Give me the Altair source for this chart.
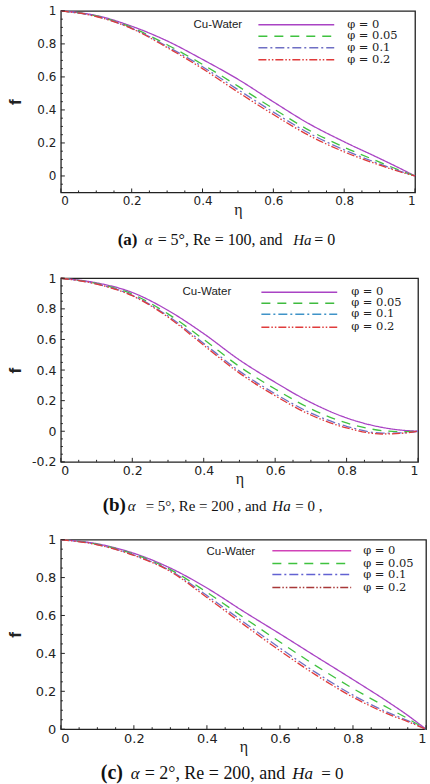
import altair as alt
import pandas as pd

# Similarity coordinate and the four nanofluid volume fractions
eta = [0.0, 0.1, 0.2, 0.3, 0.4, 0.5, 0.6, 0.7, 0.8, 0.9, 0.95, 1.0]
series = ["φ = 0", "φ = 0.05", "φ = 0.1", "φ = 0.2"]

# (a) alpha = 5 deg, Re = 100, Ha = 0
fa_0 = [1, 0.972, 0.907, 0.818, 0.706, 0.586, 0.449, 0.317, 0.207, 0.106, 0.054, 0]
fa_05 = [1, 0.969, 0.899, 0.795, 0.676, 0.544, 0.408, 0.278, 0.174, 0.084, 0.040, 0]
fa_10 = [1, 0.967, 0.895, 0.785, 0.662, 0.523, 0.387, 0.260, 0.158, 0.073, 0.034, 0]
fa_20 = [1, 0.966, 0.893, 0.778, 0.650, 0.508, 0.372, 0.246, 0.146, 0.066, 0.030, 0]

# (b) alpha = 5 deg, Re = 200, Ha = 0
fb_0 = [1, 0.970, 0.907, 0.790, 0.638, 0.466, 0.320, 0.188, 0.087, 0.025, 0.008, 0]
fb_05 = [1, 0.966, 0.896, 0.767, 0.600, 0.423, 0.276, 0.147, 0.054, 0.004, -0.003, 0]
fb_10 = [1, 0.963, 0.889, 0.753, 0.574, 0.393, 0.245, 0.119, 0.032, -0.012, -0.011, 0]
fb_20 = [1, 0.962, 0.886, 0.746, 0.562, 0.380, 0.232, 0.106, 0.022, -0.018, -0.014, 0]

# (c) alpha = 2 deg, Re = 200, Ha = 0
fc_0 = [1, 0.978, 0.928, 0.850, 0.745, 0.622, 0.503, 0.382, 0.262, 0.139, 0.073, 0]
fc_05 = [1, 0.976, 0.923, 0.842, 0.722, 0.590, 0.460, 0.333, 0.215, 0.108, 0.056, 0]
fc_10 = [1, 0.974, 0.919, 0.836, 0.705, 0.566, 0.428, 0.297, 0.180, 0.085, 0.045, 0]
fc_20 = [1, 0.973, 0.917, 0.832, 0.695, 0.553, 0.414, 0.284, 0.169, 0.077, 0.040, 0]

x_major = [0, 0.2, 0.4, 0.6, 0.8, 1]
x_minor = [0.05, 0.1, 0.15, 0.25, 0.3, 0.35, 0.45, 0.5, 0.55, 0.65, 0.7, 0.75, 0.85, 0.9, 0.95]
ya_major = [0, 0.2, 0.4, 0.6, 0.8, 1]
yb_major = [-0.2, 0, 0.2, 0.4, 0.6, 0.8, 1]
yc_major = [0, 0.2, 0.4, 0.6, 0.8, 1]
y_minor = [-0.15, -0.1, -0.05, 0.05, 0.1, 0.15, 0.25, 0.3, 0.35, 0.45, 0.5, 0.55,
           0.65, 0.7, 0.75, 0.85, 0.9, 0.95]

dashes = [[1, 0], [9, 7], [9, 3, 2, 3], [8, 2, 1.5, 2, 1.5, 2]]

SERIF = "Liberation Serif"
SANS = "DejaVu Sans"
ONE = pd.DataFrame({"k": [0]})


def panel(curves, colors, ydom, ymajor, w, h, legend, caption, bottom, lab_size):
    rows = []
    for name, vals in zip(series, curves):
        for e, v in zip(eta, vals):
            rows.append({"eta": e, "f": v, "phi": name})
    df = pd.DataFrame(rows)

    xs = alt.Scale(domain=[0, 1], nice=False, zero=False)
    ys = alt.Scale(domain=ydom, nice=False, zero=False)
    xaxis = alt.Axis(
        values=x_major, format="~g", title="η", domain=False, ticks=False, grid=False,
        labelFont=SANS, labelFontSize=lab_size, labelColor="#222", labelPadding=3,
        titleFont=SERIF, titleFontSize=16, titleFontWeight="normal", titleColor="#222",
        titleY=22, titleBaseline="alphabetic")
    yaxis = alt.Axis(
        values=ymajor, format="~g", title="f", domain=False, ticks=False, grid=False,
        labelExpr="replace(datum.label, '−', '-')",
        labelFont=SANS, labelFontSize=lab_size, labelColor="#222", labelPadding=5,
        titleFont="Liberation Sans", titleFontSize=17, titleFontWeight="bold",
        titleColor="#222", titleX=-45, titleY=h / 2, titleAngle=270,
        titleBaseline="middle", titleAlign="center")
    X = alt.X("eta:Q", scale=xs, axis=xaxis)
    Y = alt.Y("f:Q", scale=ys, axis=yaxis)

    lines = alt.Chart(df).mark_line(strokeWidth=1.3, interpolate="monotone").encode(
        x=X, y=Y,
        color=alt.Color("phi:N", scale=alt.Scale(domain=series, range=colors), legend=None),
        strokeDash=alt.StrokeDash("phi:N", scale=alt.Scale(domain=series, range=dashes),
                                  legend=None),
    )

    # inward tick marks along the bottom and left edges
    xmaj = pd.DataFrame({"eta": x_major})
    xmin = pd.DataFrame({"eta": x_minor})
    ymaj = pd.DataFrame({"f": [v for v in ymajor if ydom[0] <= v <= ydom[1]]})
    ymin = pd.DataFrame({"f": [v for v in y_minor if ydom[0] < v < ydom[1]]})
    ticks = [
        alt.Chart(xmaj).mark_rule(color="#222", strokeWidth=1).encode(
            x=X, y=alt.value(h), y2=alt.value(h - 4)),
        alt.Chart(xmin).mark_rule(color="#222", strokeWidth=1).encode(
            x=X, y=alt.value(h), y2=alt.value(h - 2)),
        alt.Chart(ymaj).mark_rule(color="#222", strokeWidth=1).encode(
            y=Y, x=alt.value(0), x2=alt.value(4)),
        alt.Chart(ymin).mark_rule(color="#222", strokeWidth=1).encode(
            y=Y, x=alt.value(0), x2=alt.value(2)),
    ]

    # in-plot legend
    (cx, cy), (lx0, lx1), rows_y, tx = legend
    leg = [alt.Chart(ONE).mark_text(text="Cu-Water", font="Liberation Sans", fontSize=11.5,
                                    align="left", baseline="middle", color="#222").encode(
        x=alt.value(cx), y=alt.value(cy))]
    for name, col, dash, ry in zip(series, colors, dashes, rows_y):
        leg.append(alt.Chart(ONE).mark_rule(color=col, strokeWidth=1.5, strokeDash=dash).encode(
            x=alt.value(lx0), x2=alt.value(lx1), y=alt.value(ry)))
        leg.append(alt.Chart(ONE).mark_text(text=name, font="DejaVu Serif", fontSize=11.5,
                                            align="left", baseline="middle",
                                            color="#222").encode(
            x=alt.value(tx), y=alt.value(ry)))

    # caption under the panel
    cap_y, pieces = caption
    cap = []
    for text, px, style, size in pieces:
        cap.append(alt.Chart(ONE).mark_text(
            text=text, font=SERIF, fontSize=size, align="left", baseline="alphabetic",
            color="#111", fontWeight="bold" if style == "bold" else "normal",
            fontStyle="italic" if style == "italic" else "normal").encode(
            x=alt.value(px), y=alt.value(cap_y)))

    # fixed layout box for the panel
    spacer = alt.Chart(ONE).mark_rule(strokeOpacity=0, opacity=0, strokeWidth=0).encode(
        x=alt.value(-56), x2=alt.value(0), y=alt.value(-10), y2=alt.value(bottom))

    return alt.layer(lines, *ticks, *leg, *cap, spacer).properties(width=w, height=h)


pa = panel(
    [fa_0, fa_05, fa_10, fa_20], ["#a943c4", "#3fc23f", "#6f6fc4", "#e03a3a"],
    [-0.1, 1], ya_major, 355, 182,
    ((133, 14), (198, 274), [14, 25.5, 37, 49], 287),
    (235, [("(a)", 57, "bold", 17), ("α", 84, "italic", 15),
           ("= 5°, Re = 100, and", 97, "normal", 16), ("Ha", 233, "italic", 15),
           ("= 0", 254, "normal", 16)]),
    256, 12)

pb = panel(
    [fb_0, fb_05, fb_10, fb_20], ["#a943c4", "#3fbb3f", "#3f93c8", "#e03c3c"],
    [-0.2, 1], yb_major, 358, 184,
    ((122, 14), (201, 277), [14, 25, 36, 49], 291),
    (233, [("(b)", 42, "bold", 19), ("α", 67, "italic", 15),
           ("= 5°, Re = 200 , and", 85, "normal", 15), ("Ha", 212, "italic", 15),
           ("= 0 ,", 235, "normal", 15)]),
    250, 12.5)

pc = panel(
    [fc_0, fc_05, fc_10, fc_20], ["#d142b8", "#3fc23f", "#6262d2", "#a83838"],
    [0, 1], yc_major, 366, 190,
    ((146, 12), (212, 291), [11, 24, 35, 48], 303),
    (240, [("(c)", 40, "bold", 20), ("α", 70, "italic", 17),
           ("= 2°, Re = 200, and", 84, "normal", 18), ("Ha", 232, "italic", 17),
           ("= 0", 261, "normal", 17)]),
    244, 13)

chart = alt.vconcat(pa, pb, pc, spacing=0).properties(
    padding={"left": 4, "top": -1, "right": 0, "bottom": 0}
).configure_view(stroke="#222", strokeWidth=1.3)

chart.save("out.html", embed_options={"renderer": "svg", "actions": False})
